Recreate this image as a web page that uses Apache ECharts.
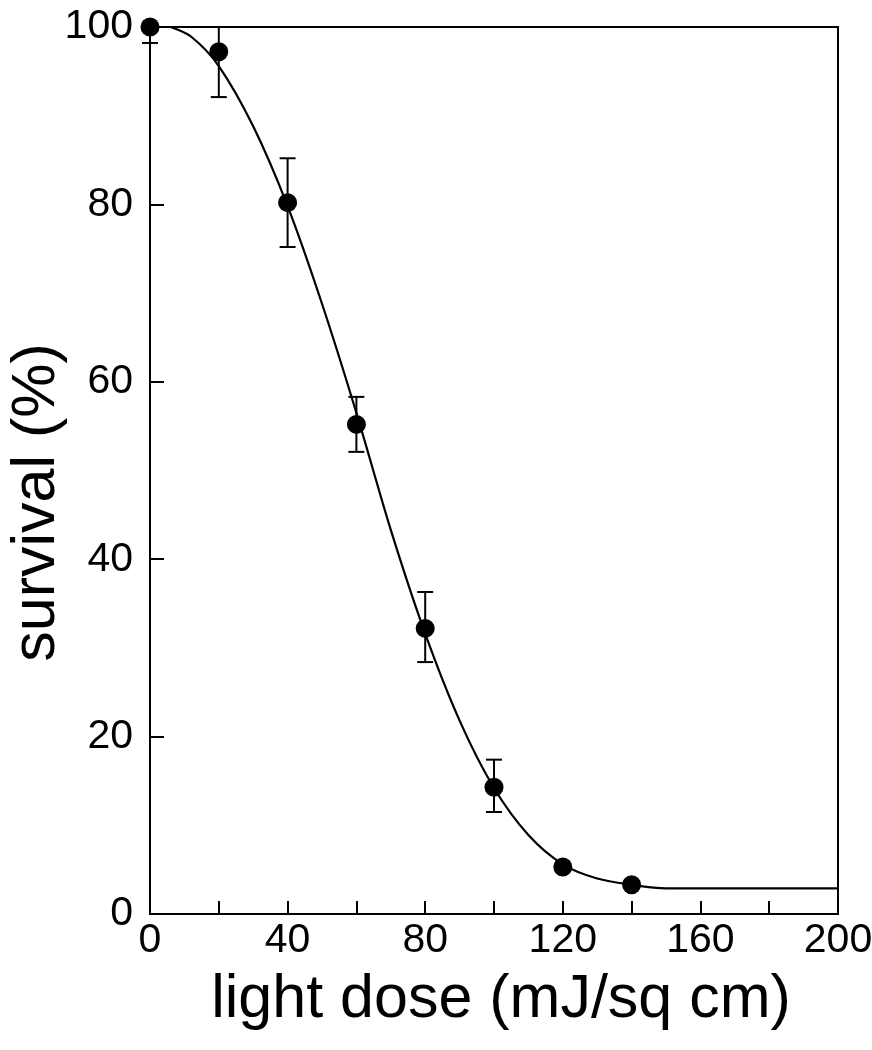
<!DOCTYPE html>
<html>
<head>
<meta charset="utf-8">
<style>html,body{margin:0;padding:0;background:#fff;}#chart{width:872px;height:1050px;}</style>
<script src="https://cdn.jsdelivr.net/npm/echarts@6/dist/echarts.min.js"></script>
</head>
<body>
<div id="chart"></div>
<script>
// Measured data points (light dose, survival %)
const doses = [0, 20, 40, 60, 80, 100, 120, 140];
const survival = [100, 97.2, 80.2, 55.2, 32.2, 14.3, 5.3, 3.3];
const errLow = [98.2, 92.1, 75.2, 52.1, 28.4, 11.5, 5.3, 3.3];
const errHigh = [100, 100, 85.2, 58.3, 36.3, 17.4, 5.3, 3.3];
// Fitted curve
const curveX = [6, 12, 20, 30, 40, 50, 60, 70, 80, 90, 100, 110, 120, 130, 140, 150, 200];
const curveY = [100, 98.9, 95.6, 88.8, 79.8, 68.8, 56.5, 43.3, 31.6, 21.8, 14.2, 8.9, 5.6, 4.0, 3.3, 2.9, 2.9];
const xTicks = [0, 40, 80, 120, 160, 200];
const yTicks = [0, 20, 40, 60, 80, 100];

const chart = echarts.init(document.getElementById('chart'));
const FONT = 'Liberation Sans, Arial, sans-serif';
const errData = doses.map((d, i) => [d, errLow[i], errHigh[i]]);

chart.setOption({
  animation: false,
  backgroundColor: '#fff',
  grid: { left: 150, right: 34, top: 27, bottom: 136, outerBoundsMode: 'none', containLabel: false,
          show: true, borderColor: '#000', borderWidth: 2, backgroundColor: 'transparent' },
  xAxis: {
    type: 'value', min: 0, max: 200, interval: 20,
    name: 'light dose (mJ/sq cm)', nameLocation: 'middle', nameGap: 56, nameMoveOverlap: false,
    nameTextStyle: { fontFamily: FONT, fontSize: 61, color: '#000', padding: [0, 0, 0, 14] },
    axisLine: { show: true, lineStyle: { color: '#000', width: 2 } },
    axisTick: { show: true, inside: true, length: 13, lineStyle: { color: '#000', width: 2 } },
    axisLabel: { fontFamily: FONT, fontSize: 41, color: '#000', margin: 6,
      formatter: v => (xTicks.indexOf(v) >= 0 ? String(v) : '') },
    splitLine: { show: false }
  },
  yAxis: {
    type: 'value', min: 0, max: 100, interval: 20,
    name: 'survival (%)', nameLocation: 'middle', nameGap: 82, nameMoveOverlap: false,
    nameTextStyle: { fontFamily: FONT, fontSize: 61, color: '#000', padding: [0, 64, 0, 0] },
    axisLine: { show: true, lineStyle: { color: '#000', width: 2 } },
    axisTick: { show: true, inside: true, length: 14, lineStyle: { color: '#000', width: 2 } },
    axisLabel: { fontFamily: FONT, fontSize: 41, color: '#000', margin: 17,
      formatter: v => (yTicks.indexOf(v) >= 0 ? String(v) : '') },
    splitLine: { show: false }
  },
  series: [
    {
      type: 'line', data: curveX.map((x, i) => [x, curveY[i]]), smooth: 0.3, showSymbol: false,
      lineStyle: { color: '#000', width: 2.2 }, z: 2
    },
    {
      type: 'custom', clip: false, z: 3,
      data: errData,
      renderItem: function (params, api) {
        const x = api.value(0);
        const lo = api.coord([x, api.value(1)]);
        const hi = api.coord([x, api.value(2)]);
        const hw = 8;
        const st = { stroke: '#000', lineWidth: 2 };
        return { type: 'group', children: [
          { type: 'line', shape: { x1: lo[0], y1: lo[1], x2: hi[0], y2: hi[1] }, style: st },
          { type: 'line', shape: { x1: lo[0] - hw, y1: lo[1], x2: lo[0] + hw, y2: lo[1] }, style: st },
          { type: 'line', shape: { x1: hi[0] - hw, y1: hi[1], x2: hi[0] + hw, y2: hi[1] }, style: st }
        ]};
      }
    },
    {
      type: 'scatter', data: doses.map((d, i) => [d, survival[i]]), symbol: 'circle', symbolSize: 19,
      itemStyle: { color: '#000', opacity: 1 }, z: 4, clip: false
    }
  ]
});
</script>
</body>
</html>
